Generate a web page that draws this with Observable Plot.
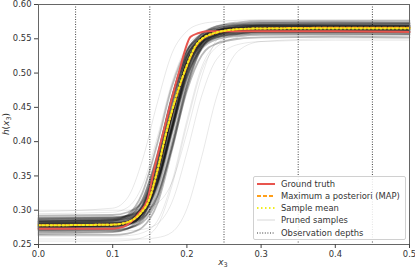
<!DOCTYPE html>
<html><head><meta charset="utf-8">
<script src="https://cdn.jsdelivr.net/npm/d3@7"></script>
<script src="https://cdn.jsdelivr.net/npm/@observablehq/plot@0.6"></script>
<style>
body{margin:0;background:#fff;}
#wrap{position:relative;width:415px;height:271px;font-family:"DejaVu Sans",sans-serif;color:#333;}
#legend{position:absolute;left:253px;top:176px;width:151px;height:62px;border:1px solid #d0d0d0;border-radius:2px;background:rgba(255,255,255,0.85);font-size:8.4px;color:#333;}
#legend .row{position:absolute;left:0;height:12px;display:flex;align-items:center;}
#legend svg{margin-left:3px;margin-right:6px;}
</style></head><body>
<div id="wrap"></div>
<script>
// ---- data ----
const xTicks = [0.0, 0.1, 0.2, 0.3, 0.4, 0.5];
const yTicks = [0.25, 0.30, 0.35, 0.40, 0.45, 0.50, 0.55, 0.60];
const obsDepths = [0.05, 0.15, 0.25, 0.35, 0.45];

const truthX = [0, 0.10, 0.115, 0.125, 0.135, 0.147, 0.155, 0.169, 0.188, 0.205, 0.215, 0.228, 0.30, 0.40, 0.50];
const truthY = [0.273, 0.273, 0.276, 0.283, 0.295, 0.316, 0.355, 0.417, 0.496, 0.553, 0.558, 0.561, 0.561, 0.561, 0.560];

const mapX = [0, 0.10, 0.115, 0.127, 0.138, 0.149, 0.159, 0.173, 0.195, 0.216, 0.239, 0.27, 0.30, 0.40, 0.50];
const mapY = [0.278, 0.279, 0.281, 0.286, 0.296, 0.315, 0.352, 0.416, 0.496, 0.545, 0.5585, 0.564, 0.565, 0.566, 0.566];

const meanX = [0, 0.10, 0.115, 0.127, 0.138, 0.149, 0.159, 0.173, 0.195, 0.216, 0.239, 0.27, 0.30, 0.40, 0.50];
const meanY = [0.278, 0.279, 0.281, 0.286, 0.296, 0.315, 0.353, 0.417, 0.497, 0.546, 0.559, 0.564, 0.565, 0.565, 0.565];

const sampleX = [0, 0.10, 0.12, 0.14, 0.16, 0.18, 0.20, 0.22, 0.24, 0.27, 0.30, 0.40, 0.50];
// dense core of pruned samples
const coreSamples = [
 [.278,.279,.283,.299,.355,.440,.515,.548,.559,.563,.565,.565,.565],
 [.282,.283,.287,.303,.359,.443,.518,.551,.562,.566,.568,.568,.568],
 [.274,.275,.279,.295,.351,.436,.512,.545,.556,.560,.562,.562,.561],
 [.285,.287,.292,.316,.381,.467,.532,.557,.565,.569,.570,.570,.569],
 [.270,.271,.273,.285,.329,.412,.494,.538,.552,.558,.560,.560,.560],
 [.288,.289,.291,.302,.345,.424,.503,.545,.558,.564,.566,.566,.565],
 [.276,.278,.283,.308,.376,.465,.532,.557,.566,.570,.571,.571,.571],
 [.268,.269,.273,.289,.346,.432,.508,.541,.552,.556,.558,.558,.557],
 [.280,.281,.283,.294,.337,.415,.493,.535,.549,.554,.556,.556,.556],
 [.272,.272,.274,.282,.316,.393,.481,.538,.557,.564,.566,.567,.567],
 [.284,.285,.289,.305,.362,.448,.524,.557,.568,.572,.574,.574,.573],
 [.266,.268,.273,.298,.367,.457,.525,.550,.559,.563,.564,.564,.564],
 [.292,.293,.297,.312,.366,.448,.521,.553,.563,.567,.569,.569,.569],
 [.279,.279,.281,.289,.320,.391,.474,.526,.543,.550,.552,.553,.552],
 [.276,.277,.280,.291,.338,.422,.508,.553,.568,.574,.576,.576,.576],
 [.281,.282,.286,.301,.356,.438,.511,.544,.554,.558,.560,.560,.559],
 [.286,.287,.289,.300,.343,.422,.501,.543,.556,.562,.564,.564,.564],
 [.273,.274,.278,.295,.352,.440,.518,.552,.563,.567,.569,.569,.569],
 [.277,.277,.279,.287,.321,.398,.486,.543,.562,.569,.571,.572,.572],
 [.283,.285,.293,.325,.397,.481,.534,.552,.558,.561,.562,.562,.562],
 [.289,.290,.292,.303,.347,.428,.508,.551,.565,.571,.573,.573,.573],
 [.264,.264,.266,.275,.309,.388,.478,.536,.555,.563,.565,.566,.566],
 [.280,.281,.283,.294,.339,.420,.502,.545,.559,.565,.567,.567,.567],
 [.275,.277,.282,.306,.372,.459,.525,.550,.558,.562,.563,.563,.563],
 [.279,.280,.284,.300,.356,.441,.516,.549,.560,.564,.566,.566,.566],
 [.277,.278,.280,.291,.336,.417,.498,.541,.555,.561,.563,.563,.563],
 [.283,.285,.290,.314,.379,.465,.530,.554,.562,.566,.567,.567,.567],
 [.281,.282,.284,.295,.340,.422,.504,.548,.562,.568,.570,.570,.570],
 [.275,.276,.280,.296,.354,.440,.517,.551,.562,.566,.568,.568,.568],
 [.287,.288,.292,.307,.360,.442,.513,.545,.555,.559,.561,.561,.561],
 [.271,.273,.278,.303,.370,.459,.526,.551,.560,.564,.565,.565,.565],
 [.284,.285,.287,.298,.340,.418,.496,.538,.552,.557,.559,.559,.559]
];
// sparse outlying pruned samples
const outlierSamples = [
 [.290,.290,.292,.300,.331,.402,.484,.536,.553,.560,.562,.563,.563],
 [.262,.262,.263,.267,.284,.342,.431,.509,.543,.557,.560,.561,.561],
 [.295,.297,.304,.336,.406,.487,.539,.557,.562,.565,.566,.566,.566],
 [.258,.258,.258,.258,.260,.268,.302,.378,.465,.533,.546,.550,.550],
 [.298,.303,.318,.373,.456,.529,.561,.572,.575,.577,.578,.578,.578],
 [.270,.270,.270,.272,.280,.312,.384,.467,.520,.542,.546,.548,.548],
 [.255,.255,.256,.260,.277,.336,.425,.504,.538,.552,.555,.556,.556],
 [.300,.300,.300,.302,.310,.341,.413,.495,.548,.569,.573,.575,.575]
];

const colTruth = "#e8554e", colMap = "#ff9f1a", colMean = "#f2ee1e";

// ---- tables ----
const toRows = arr => arr.flatMap((ys, i) => ys.map((y, j) => ({id: i, x: sampleX[j], y})));
const coreRows = toRows(coreSamples);
const outRows = toRows(outlierSamples);
const truth = truthX.map((x, i) => ({x, y: truthY[i]}));
const mapRows = mapX.map((x, i) => ({x, y: mapY[i]}));
const meanRows = meanX.map((x, i) => ({x, y: meanY[i]}));

const chart = Plot.plot({
  width: 415, height: 271,
  marginLeft: 38, marginRight: 6, marginTop: 4, marginBottom: 27,
  style: {fontFamily: "DejaVu Sans, sans-serif", fontSize: "8.4px", color: "#333", background: "white", overflow: "visible"},
  x: {domain: [0, 0.5]},
  y: {domain: [0.25, 0.6]},
  marks: [
    Plot.ruleX(obsDepths, {stroke: "#444", strokeWidth: 1, strokeDasharray: "1,1.5"}),
    Plot.line(outRows, {x: "x", y: "y", z: "id", stroke: "black", strokeOpacity: 0.09, strokeWidth: 1, curve: "monotone-x"}),
    Plot.line(coreRows, {x: "x", y: "y", z: "id", stroke: "black", strokeOpacity: 0.27, strokeWidth: 1.8, curve: "monotone-x"}),
    Plot.line(truth, {x: "x", y: "y", stroke: colTruth, strokeWidth: 2, curve: "monotone-x"}),
    Plot.line(mapRows, {x: "x", y: "y", stroke: colMap, strokeWidth: 2, strokeDasharray: "4,2", curve: "monotone-x"}),
    Plot.line(meanRows, {x: "x", y: "y", stroke: colMean, strokeWidth: 2, strokeDasharray: "1.5,2.5", curve: "monotone-x"}),
    Plot.frame({stroke: "#666", strokeWidth: 1}),
    Plot.axisX({ticks: xTicks, tickFormat: d => d.toFixed(1), tickSize: 4, tickPadding: 3, label: null, stroke: "#444"}),
    Plot.axisY({ticks: yTicks, tickFormat: d => d.toFixed(2), tickSize: 4, tickPadding: 3, label: null, stroke: "#444"})
  ]
});
const wrap = document.getElementById("wrap");
wrap.appendChild(chart);

// axis labels as svg text
const svg = d3.select(chart);
const xl = svg.append("text").attr("x", 223).attr("y", 265).attr("text-anchor", "middle")
  .attr("font-size", 9).attr("fill", "#333");
xl.append("tspan").attr("font-style", "italic").text("x");
xl.append("tspan").attr("font-size", 6.5).attr("dy", 2).text("3");
const yl = svg.append("text").attr("transform", "translate(9,124) rotate(-90)").attr("text-anchor", "middle")
  .attr("font-size", 9).attr("fill", "#333");
yl.append("tspan").attr("font-style", "italic").text("h");
yl.append("tspan").text("(");
yl.append("tspan").attr("font-style", "italic").text("x");
yl.append("tspan").attr("font-size", 6.5).attr("dy", 2).text("3");
yl.append("tspan").attr("dy", -2).text(")");

// legend
const legendItems = [
  {label: "Ground truth", color: colTruth, width: 2, dash: null},
  {label: "Maximum a posteriori (MAP)", color: colMap, width: 2, dash: "4,2"},
  {label: "Sample mean", color: colMean, width: 2, dash: "1.5,2.5"},
  {label: "Pruned samples", color: "#d8d8d8", width: 1, dash: null},
  {label: "Observation depths", color: "#333", width: 1, dash: "1,1.6"}
];
const lg = document.createElement("div");
lg.id = "legend";
legendItems.forEach((it, i) => {
  const r = document.createElement("div");
  r.className = "row";
  r.style.top = (0.5 + i * 12.3) + "px";
  r.innerHTML = `<svg width="18" height="6"><line x1="0" x2="18" y1="3" y2="3" stroke="${it.color}" stroke-width="${it.width}" ${it.dash ? `stroke-dasharray="${it.dash}"` : ""}/></svg><span>${it.label}</span>`;
  lg.appendChild(r);
});
wrap.appendChild(lg);
</script>
</body></html>
